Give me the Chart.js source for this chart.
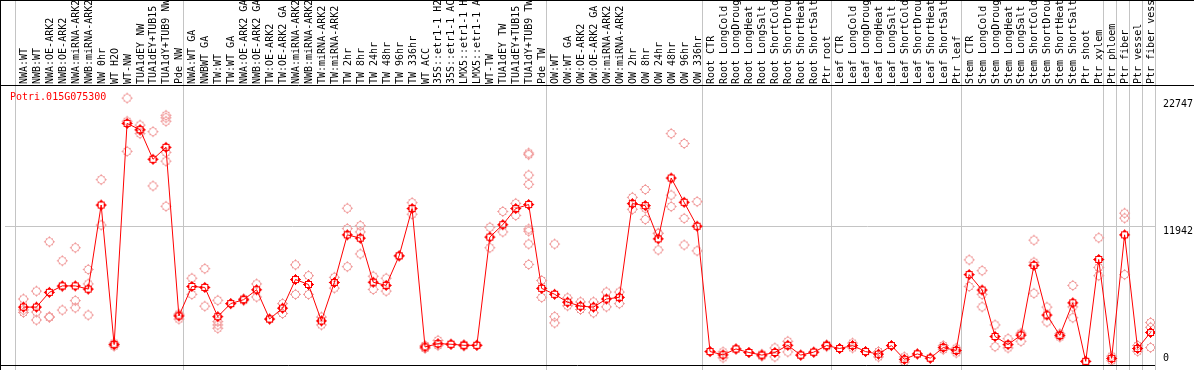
<!DOCTYPE html>
<html>
<head>
<meta charset="utf-8">
<script src="https://cdn.jsdelivr.net/npm/chart.js@4.4.0/dist/chart.umd.min.js"></script>
<style>
html, body { margin: 0; padding: 0; background: #fff; }
#wrap { width: 1194px; height: 370px; position: relative; }
</style>
</head>
<body>
<div id="wrap"><canvas id="expr-chart"></canvas></div>
<script>
var geneName = "Potri.015G075300";

var categories = [
    "NWA:WT", "NWB:WT", "NWA:OE-ARK2", "NWB:OE-ARK2", "NWA:miRNA-ARK2", "NWB:miRNA-ARK2", "NW 0hr", "WT H2O", "WT-NW",
    "TUA1dEY NW", "TUA1dEY+TUB15 NW", "TUA1dY+TUB9 NW", "Pde NW",
    "NWA:WT GA", "NWBWT GA", "TW:WT", "TW:WT GA", "NWA:OE-ARK2 GA", "NWB:OE-ARK2 GA", "TW:OE-ARK2", "TW:OE-ARK2 GA",
    "NWA:miRNA-ARK2 GA", "NWB:miRNA-ARK2 GA", "TW:miRNA-ARK2", "TW:miRNA-ARK2 GA", "TW 2hr", "TW 8hr", "TW 24hr", "TW 48hr",
    "TW 96hr", "TW 336hr", "WT ACC", "35S::etr1-1 H2O", "35S::etr1-1 ACC", "LMX5::etr1-1 H2O", "LMX5::etr1-1 ACC", "WT-TW",
    "TUA1dEY TW", "TUA1dEY+TUB15 TW", "TUA1dY+TUB9 TW", "Pde TW",
    "OW:WT", "OW:WT GA", "OW:OE-ARK2", "OW:OE-ARK2 GA", "OW:miRNA-ARK2", "OW:miRNA-ARK2 GA", "OW 2hr", "OW 8hr", "OW 24hr",
    "OW 48hr", "OW 96hr", "OW 336hr",
    "Root CTR", "Root LongCold", "Root LongDrought", "Root LongHeat", "Root LongSalt", "Root ShortCold", "Root ShortDrought",
    "Root ShortHeat", "Root ShortSalt", "Ptr root",
    "Leaf CTR", "Leaf LongCold", "Leaf LongDrought", "Leaf LongHeat", "Leaf LongSalt", "Leaf ShortCold", "Leaf ShortDrought",
    "Leaf ShortHeat", "Leaf ShortSalt", "Ptr leaf",
    "Stem CTR", "Stem LongCold", "Stem LongDrought", "Stem LongHeat", "Stem LongSalt", "Stem ShortCold", "Stem ShortDrought",
    "Stem ShortHeat", "Stem ShortSalt", "Ptr shoot", "Ptr xylem",
    "Ptr phloem", "Ptr fiber", "Ptr vessel", "Ptr fiber vessel"
];

// mean expression per sample (red line)
var meanValues = [
    5020, 5020, 6270, 6820, 6820, 6550, 13680, 1840, 20600, 20070, 17560, 18570, 4270,
    6770, 6690, 4210, 5320, 5650, 6490, 4010, 4930, 7360, 6940, 3850, 7110, 11150, 10870, 7130, 6860, 9370, 13380,
    1640, 1920, 1870, 1780, 1780, 10960, 12010, 13380, 13720, 6610,
    6110, 5440, 5100, 5020, 5710, 5850, 13800, 13630, 10810, 15970, 13910, 11880,
    1250, 970, 1470, 1170, 950, 1170, 1780, 950, 1200, 1760,
    1510, 1760, 1250, 1030, 1760, 590, 1050, 690, 1590, 1340,
    7780, 6470, 2530, 1840, 2640, 8560, 4350, 2620, 5380, 420, 9060,
    670, 11150, 1510, 2870
];

// single replicates (pink circles)
var replicateValues = [
    [5710, 4570, 4780], [6380, 4600, 3930], [10560, 4210, 4150], [8950, 4770, 6760], [10060, 5570, 4960],
    [8220, 6990, 4350], [15830, 11980], [1970, 1840, 1710], [22747, 20790, 18230], [20460, 19740, 20020],
    [19900, 15300], [21290, 21080, 20790, 18150, 17400, 13570], [4010, 4350, 4430],
    [7470, 6100], [8280, 5100], [5600, 3790, 3510, 3230], [5320], [5740, 5570], [6990, 5880], [4010],
    [5320, 4480], [8610, 6100], [7690, 6100], [3510, 4180], [7550, 6630], [13410, 11680, 8450],
    [11930, 11400, 9530], [7640, 6520], [7470, 6380], [9370], [13880, 12900], [1510, 1770], [2200, 1760],
    [1870], [1720, 1840], [1780], [11790, 10060], [13130, 11400], [13820, 12800],
    [18090, 17950, 16220, 15440, 11650, 11460, 10370, 8640], [7280, 5850],
    [10370, 4210, 3680], [5800, 5130], [5460, 4820], [5460, 4540], [6300, 5040], [6300, 5320],
    [14330, 13320], [15000, 13410, 12460], [11260, 9870, 11300], [19740, 14520, 13550],
    [18900, 12550, 10290], [13970, 9790],
    [1250], [720, 1220], [1470], [1170], [860, 1030], [1560, 800], [2120, 1220], [950], [1200], [1840, 1670],
    [1510], [1970, 1560], [1250], [800, 1250], [1760], [800, 370], [1050], [690], [1760, 1420], [1140, 1540],
    [9030, 6770], [8110, 6100, 5040], [3510, 1670], [2340, 1560], [2810, 2120], [10700, 8830, 6190],
    [5020, 3760], [2480, 2760], [6860, 5040, 4120], [420], [10900, 8390, 7690],
    [860, 480], [12990, 12570, 7780], [1760, 1280], [3710, 3310, 1590]
];

var yTickValues = [22747, 11942, 0];
var yTickLabels = ["22747", "11942", "0"];

// grey separators drawn after these sample indices
var groupEnds = [-1, 12, 40, 52, 62, 72, 83, 84, 85, 86, 87];

var FONT = '10px "DejaVu Sans Mono", "Liberation Mono", monospace';

// small pixel circle with four ticks, like the original bitmap marker
function makeMarker(color, inner, outer) {
    var c = document.createElement("canvas");
    c.width = 13;
    c.height = 13;
    var g = c.getContext("2d");
    g.fillStyle = color;
    for (var py = 0; py < 13; py++) {
        for (var px = 0; px < 13; px++) {
            var dx = px + 0.5 - 6.5, dy = py + 0.5 - 6.5;
            var d = Math.sqrt(dx * dx + dy * dy);
            var ring = d >= inner && d <= outer;
            var tick = (Math.abs(dx) < 0.6 || Math.abs(dy) < 0.6) && d > outer && d <= outer + 1.1;
            if (ring || tick) g.fillRect(px, py, 1, 1);
        }
    }
    return c;
}

var framePlugin = {
    id: "frame",
    beforeDatasetsDraw: function(chart) {
        var ctx = chart.ctx;
        var a = chart.chartArea;
        var xs = chart.scales.x;
        var ys = chart.scales.y;
        ctx.save();
        ctx.strokeStyle = "#c4c4c4";
        ctx.lineWidth = 1;
        groupEnds.forEach(function(g) {
            var x = Math.round(xs.getPixelForValue(g + 0.346)) + 0.5;
            ctx.beginPath();
            ctx.moveTo(x, 0);
            ctx.lineTo(x, chart.height);
            ctx.stroke();
        });
        var ym = Math.round(ys.getPixelForValue(yTickValues[1])) + 0.5;
        ctx.beginPath();
        ctx.moveTo(a.left, ym);
        ctx.lineTo(a.right, ym);
        ctx.stroke();
        ctx.restore();
    },
    afterDraw: function(chart) {
        var ctx = chart.ctx;
        var a = chart.chartArea;
        var xs = chart.scales.x;
        var ys = chart.scales.y;
        ctx.save();
        // black frame
        ctx.strokeStyle = "#000";
        ctx.lineWidth = 1;
        ctx.beginPath();
        ctx.moveTo(0, 0.5); ctx.lineTo(chart.width, 0.5);
        ctx.moveTo(0, a.top + 0.5); ctx.lineTo(chart.width, a.top + 0.5);
        ctx.moveTo(0.5, 0); ctx.lineTo(0.5, chart.height);
        ctx.moveTo(0, a.bottom + 0.5); ctx.lineTo(a.right, a.bottom + 0.5);
        ctx.stroke();

        // rotated sample names in the header
        ctx.font = FONT;
        ctx.fillStyle = "#000";
        ctx.textAlign = "left";
        ctx.textBaseline = "alphabetic";
        categories.forEach(function(name, i) {
            var x = xs.getPixelForValue(i);
            ctx.save();
            ctx.translate(x + 3.5, a.top - 1);
            ctx.rotate(-Math.PI / 2);
            ctx.fillText(name, 0, 0);
            ctx.restore();
        });

        // gene id
        ctx.fillStyle = "#ff0000";
        ctx.fillText(geneName, 10, a.top + 15);

        // y tick labels on the right
        ctx.fillStyle = "#000";
        ctx.textBaseline = "middle";
        yTickValues.forEach(function(v, i) {
            var y = Math.min(ys.getPixelForValue(v) + 6, a.bottom - 7);
            ctx.fillText(yTickLabels[i], a.right + 8, y);
        });
        ctx.restore();
    }
};

document.addEventListener("DOMContentLoaded", function() {
    var meanPoints = meanValues.map(function(v, i) { return { x: i, y: v }; });
    var repPoints = [];
    replicateValues.forEach(function(list, i) {
        list.forEach(function(v) { repPoints.push({ x: i, y: v }); });
    });

    var ctx = document.getElementById("expr-chart").getContext("2d");
    window.chart = new Chart(ctx, {
        type: "line",
        data: {
            datasets: [{
                label: "mean",
                data: meanPoints,
                borderColor: "#ff0000",
                borderWidth: 1,
                pointStyle: makeMarker("#ff0000", 3.0, 4.4),
                pointRadius: 4,
                tension: 0,
                order: 0
            }, {
                label: "replicates",
                data: repPoints,
                showLine: false,
                pointStyle: makeMarker("#f09a9a", 3.4, 4.4),
                pointRadius: 4,
                order: 1
            }]
        },
        options: {
            responsive: true,
            maintainAspectRatio: false,
            animation: false,
            layout: { padding: { left: 1, right: 39, top: 85, bottom: 1 } },
            plugins: { legend: { display: false }, tooltip: { enabled: false } },
            scales: {
                x: { type: "linear", display: false, min: -1.423, max: 87.346 },
                y: { type: "linear", display: false, min: 109, max: 23860 }
            }
        },
        plugins: [framePlugin]
    });
});
</script>
</body>
</html>
